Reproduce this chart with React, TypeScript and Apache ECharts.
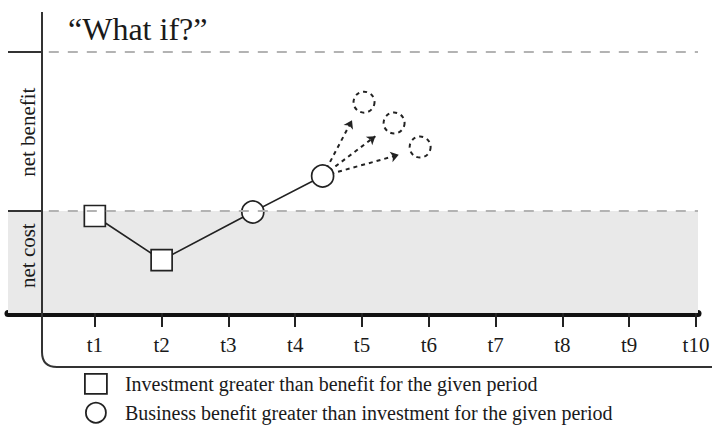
import React, { useEffect, useRef } from "react";
import * as echarts from "echarts";

const titleText = "\u201CWhat if?\u201D";
const tickValues = [1, 2, 3, 4, 5, 6, 7, 8, 9, 10];
const tickLabels = ["t1", "t2", "t3", "t4", "t5", "t6", "t7", "t8", "t9", "t10"];
const zoneLabelValues = [49.5, -28];
const zoneLabels = ["net benefit", "net cost"];
const breakEven = 0;
const benefitCeiling = 100;
const costFloor = -64;
const investmentPoints = [
  [1, -3.1],
  [2, -30.8],
];
const benefitPoints = [
  [3.365, -0.6],
  [4.41, 22],
];
const whatIfPoints = [
  [5.03, 68.4],
  [5.48, 55.3],
  [5.87, 40.2],
];
const arrowEnds = [
  [4.85, 57],
  [5.2, 47],
  [5.55, 35.3],
];
const legendNames = [
  "Investment greater than benefit for the given period",
  "Business benefit greater than investment for the given period",
];

const FONT = "'Liberation Serif', 'DejaVu Serif', serif";

export default function App() {
  const ref = useRef<HTMLDivElement>(null);
  useEffect(() => {
    if (!ref.current) return;
    echarts.graphic.registerShape(
      "frame",
      echarts.graphic.extendPath("M42 12 L42 352 Q42 367 57 367 L712 367", {}) as any
    );
    const chart = echarts.init(ref.current, null, { renderer: "svg" });
    const xMin = -0.3;
    const xMax = 10.03;
    const pathPoints = [...investmentPoints, ...benefitPoints];
    const start = benefitPoints[benefitPoints.length - 1];
    chart.setOption({
      animation: false,
      backgroundColor: "#ffffff",
      title: {
        text: titleText,
        left: 63,
        top: 8,
        textStyle: { fontFamily: FONT, fontSize: 32, fontWeight: "normal", color: "#1a1a1a" },
      },
      legend: {
        orient: "vertical",
        left: 84,
        top: 373,
        itemWidth: 22,
        itemHeight: 20,
        itemGap: 7,
        padding: 0,
        selectedMode: false,
        textStyle: { fontFamily: FONT, fontSize: 20, color: "#1a1a1a", padding: [0, 0, 0, 13] },
        data: [
          { name: legendNames[0], icon: "rect", itemStyle: { color: "#fff", borderColor: "#222", borderWidth: 1.8 } },
          { name: legendNames[1], icon: "circle", itemStyle: { color: "#fff", borderColor: "#222", borderWidth: 1.8 } },
        ],
      },
      grid: { left: 8, right: 16, top: 12, bottom: 117 },
      xAxis: {
        type: "value",
        min: xMin,
        max: xMax,
        splitLine: { show: false },
        axisLine: { onZero: false, lineStyle: { color: "#111", width: 7 } },
        axisTick: { customValues: tickValues, length: 14, lineStyle: { color: "#222", width: 2 } },
        axisLabel: {
          customValues: tickValues,
          margin: 21,
          fontFamily: FONT,
          fontSize: 21,
          color: "#1a1a1a",
          formatter: (v: number) => tickLabels[tickValues.indexOf(v)] ?? "",
        },
      },
      yAxis: {
        type: "value",
        min: costFloor,
        max: 125,
        splitLine: { show: false },
        axisLine: { show: false, onZero: false },
        axisTick: { show: false },
        axisLabel: { show: false },
      },
      series: [
        {
          type: "line",
          name: "path",
          data: pathPoints,
          symbol: "none",
          z: 2,
          lineStyle: { color: "#222", width: 1.6 },
          markArea: {
            silent: true,
            itemStyle: { color: "#e9e9e9" },
            data: [[{ coord: [xMin, costFloor] }, { coord: [xMax, breakEven] }]],
          },
          markLine: {
            silent: true,
            symbol: "none",
            label: { show: false },
            data: [
              [
                { coord: [0.311, benefitCeiling], lineStyle: { color: "#b3b3b3", width: 1.8, type: [10, 9] } },
                { coord: [xMax, benefitCeiling] },
              ],
              [
                { coord: [0.311, breakEven], lineStyle: { color: "#b3b3b3", width: 1.8, type: [10, 9] } },
                { coord: [xMax, breakEven] },
              ],
              [
                { coord: [xMin, benefitCeiling], lineStyle: { color: "#333", width: 2, type: "solid" } },
                { coord: [0.207, benefitCeiling] },
              ],
              [
                { coord: [xMin, breakEven], lineStyle: { color: "#333", width: 2, type: "solid" } },
                { coord: [0.207, breakEven] },
              ],
            ],
          },
        },
        {
          type: "lines",
          coordinateSystem: "cartesian2d",
          z: 2,
          symbol: ["none", "arrow"],
          symbolSize: 8,
          lineStyle: { color: "#222", width: 2, type: [4, 4], opacity: 1 },
          data: arrowEnds.map((e) => ({ coords: [start, e] })),
        },
        {
          type: "scatter",
          name: legendNames[0],
          symbol: "rect",
          symbolSize: 21,
          z: 3,
          itemStyle: { color: "#fff", borderColor: "#222", borderWidth: 1.7, opacity: 1 },
          data: investmentPoints,
        },
        {
          type: "scatter",
          name: legendNames[1],
          symbol: "circle",
          symbolSize: 22,
          z: 3,
          itemStyle: { color: "#fff", borderColor: "#222", borderWidth: 1.7, opacity: 1 },
          data: benefitPoints,
        },
        {
          type: "scatter",
          name: "what if",
          symbol: "circle",
          symbolSize: 21,
          z: 3,
          itemStyle: { color: "#fff", borderColor: "#222", borderWidth: 2, borderType: [4, 4], opacity: 1 },
          data: whatIfPoints,
        },
      ],
    });
    const zoneTexts = zoneLabels.map((label, i) => {
      const p = chart.convertToPixel({ gridIndex: 0 }, [0, zoneLabelValues[i]]) as number[];
      return {
        type: "text",
        x: p[0],
        y: p[1],
        rotation: Math.PI / 2,
        z: 50,
        style: {
          text: label,
          fontFamily: FONT,
          fontSize: 21,
          fill: "#1a1a1a",
          align: "center",
          verticalAlign: "middle",
        },
      };
    });
    chart.setOption({
      graphic: [
        {
          type: "frame",
          x: 0,
          y: 0,
          z: 100,
          style: { stroke: "#333", fill: "none", lineWidth: 2 },
        },
        ...zoneTexts,
      ],
    });
    return () => chart.dispose();
  }, []);
  return (
    <div
      ref={ref}
      style={{ position: "fixed", left: 0, top: 0, width: 714, height: 430 }}
    />
  );
}
